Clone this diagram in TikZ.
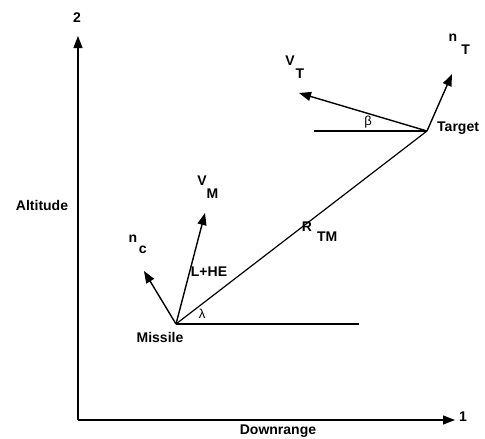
\documentclass[tikz,border=0pt]{standalone}
\usepackage{fontspec}
\setmainfont{Liberation Sans}
\usetikzlibrary{arrows.meta}
\begin{document}
\begin{tikzpicture}[x=1pt,y=-1pt,
  lbl/.style={font=\fontsize{14}{16}\selectfont\bfseries, inner sep=0pt},
  grk/.style={font=\fontsize{13}{15}\selectfont, inner sep=0pt},
  vec/.style={line width=1.4pt, -{Triangle[length=12pt,width=9pt]}},
  ln/.style={line width=1.2pt}]
\useasboundingbox (0,0) rectangle (485,439);
% axes
\coordinate (O) at (78,420);
\coordinate (Ytip) at (78,36);
\coordinate (Xtip) at (455,420);
\draw[ln, -{Triangle[length=12pt,width=9pt]}] (O) -- (Ytip);
\draw[ln, -{Triangle[length=12pt,width=9pt]}] (O) -- (Xtip);
\node[lbl] (two) at (77,18) {2};
\node[lbl] (one) at (463,417) {1};
\node[lbl] (alt) at (42,205) {Altitude};
\node[lbl] (down) at (278,431) {Downrange};
% missile and target
\coordinate (M) at (176,324);
\coordinate (T) at (427,131);
\coordinate (Mref) at (359,324);
\coordinate (Tref) at (314,131);
\draw[ln] (M) -- (Mref);
\draw[ln] (Tref) -- (T);
\draw[ln] (M) -- (T);
% vectors
\coordinate (VTtip) at (299,93);
\coordinate (nTtip) at (452,74);
\coordinate (VMtip) at (205,213);
\coordinate (nctip) at (144,271);
\draw[vec] (T) -- (VTtip);
\draw[vec] (T) -- (nTtip);
\draw[vec] (M) -- (VMtip);
\draw[vec] (M) -- (nctip);
% labels
\node[lbl] (VT) at (290,67) {V\rlap{\raisebox{-13pt}{\kern1pt T}}};
\node[lbl] (nT) at (453,44) {n\rlap{\raisebox{-13pt}{\kern4pt T}}};
\node[grk] (beta) at (368,122) {β};
\node[lbl, anchor=west] (tgt) at (437,128) {Target};
\node[lbl] (msl) at (160,337) {Missile};
\node[lbl] (VM) at (202,187) {V\rlap{\raisebox{-13pt}{M}}};
\node[lbl] (nc) at (133,244) {n\rlap{\raisebox{-11pt}{\kern1.5pt c}}};
\node[lbl] (lhe) at (209,272) {L+HE};
\node[lbl] (RTM) at (307,232) {R\rlap{\raisebox{-10pt}{\kern5pt TM}}};
\node[grk] (lam) at (202,314) {λ};
\end{tikzpicture}
\end{document}
